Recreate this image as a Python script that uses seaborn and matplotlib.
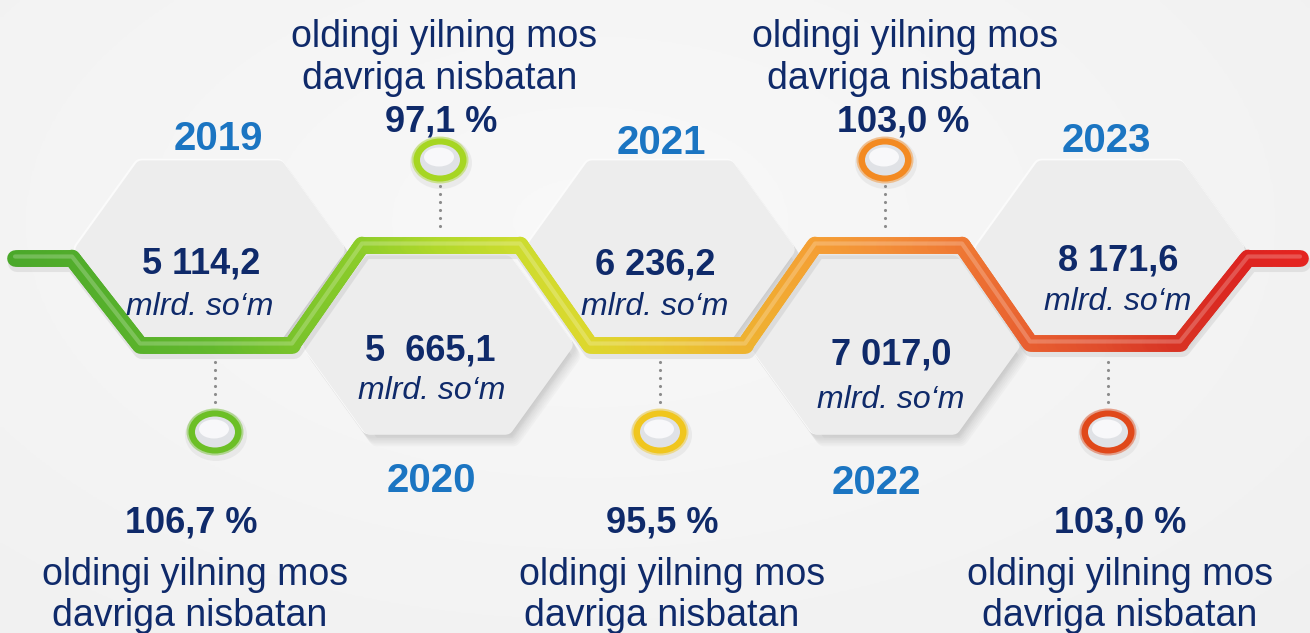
import numpy as np
import matplotlib
matplotlib.use("Agg")
import matplotlib.pyplot as plt
import seaborn as sns
from matplotlib.collections import LineCollection
from matplotlib.colors import LinearSegmentedColormap
from matplotlib.patches import Polygon, Ellipse

# Data
years = ["2019", "2020", "2021", "2022", "2023"]
values = ["5 114,2", "5  665,1", "6 236,2", "7 017,0", "8 171,6"]
unit = "mlrd. so\u2018m"
growth = ["106,7 %", "97,1 %", "95,5 %", "103,0 %", "103,0 %"]
caption = ["oldingi yilning mos", "davriga nisbatan"]

# Layout (pixels, y down)
hex_x = [210, 438, 660, 885, 1110]
hex_y = [250, 345, 250, 345, 250]
year_xy = [(218, 139), (431, 481), (661, 143), (876, 483), (1106, 141)]
val_xy = [(201, 264), (430, 351), (655, 265), (891, 355), (1118, 261)]
unit_xy = [(200, 307), (432, 391), (655, 307), (891, 400), (1118, 302)]
pct_xy = [(191, 523), (441, 122), (662, 523), (903, 122), (1120, 523)]
cap_xy = [[(195, 575), (190, 616)], [(444, 37), (440, 79)],
          [(672, 575), (662, 616)], [(905, 37), (905, 79)],
          [(1120, 575), (1120, 616)]]
bubble_xy = [(215, 432), (440, 160), (660, 432), (885, 160), (1108, 432)]
ring_col = ["#6cbf26", "#a6d622", "#f0c61e", "#f38a22", "#e0481a"]
dots_span = [(362, 404), (186, 232), (362, 404), (186, 232), (362, 404)]

path_x = [15, 72, 140, 292, 362, 520, 590, 745, 815, 962, 1030, 1180, 1248, 1300]
path_y = [258, 258, 345, 345, 245, 245, 345, 345, 245, 245, 343, 343, 258, 258]
grad_x = [15, 215, 360, 440, 520, 590, 665, 745, 815, 885, 962, 1030, 1110, 1180, 1250, 1300]
grad_c = ["#4aa82a", "#62b82c", "#8ccc2a", "#b0d82a", "#ccdc2e", "#dcd82e", "#e8c830",
          "#eeb430", "#f4a034", "#f39038", "#ef7a34", "#e86030", "#e04c2c", "#d83424",
          "#dc2420", "#e42420"]

YEAR_C = "#1b75c2"
NAVY = "#0f2a6a"

sns.set_theme(style="white")
plt.rcParams["font.family"] = ["Liberation Sans", "DejaVu Sans"]

fig = plt.figure(figsize=(13.1, 6.33), dpi=100)
ax = fig.add_axes([0, 0, 1, 1])

# background
bg = np.linspace(0, 1, 256)
bgx, bgy = np.meshgrid(bg, bg)
shade = 0.975 - 0.035 * np.sqrt(((bgx - 0.45) * 1.2) ** 2 + ((bgy - 0.35) * 1.0) ** 2)
ax.imshow(np.dstack([shade] * 3), extent=[0, 1310, 633, 0], aspect="auto", zorder=0)


def hexagon(cx, cy, w=127, h=82, t=68):
    return [(cx - t, cy - h), (cx + t, cy - h), (cx + w, cy),
            (cx + t, cy + h), (cx - t, cy + h), (cx - w, cy)]


for cx, cy in zip(hex_x, hex_y):
    for k in range(6):
        ax.add_patch(Polygon(hexagon(cx + 2 + k, cy + 3 + k * 1.6), closed=True,
                             fc="#808080", ec="#808080", lw=12, joinstyle="round",
                             alpha=0.045, zorder=1))
    ax.add_patch(Polygon(hexagon(cx - 1, cy - 1), closed=True, fc="#fbfbfb", ec="#fbfbfb",
                         lw=12, joinstyle="round", zorder=2))
    ax.add_patch(Polygon(hexagon(cx, cy), closed=True, fc="#ededed", ec="#ededed",
                         lw=11, joinstyle="round", zorder=2))

# gradient line
px, py = [], []
for i in range(len(path_x) - 1):
    n = max(int(np.hypot(path_x[i + 1] - path_x[i], path_y[i + 1] - path_y[i]) / 3), 2)
    px.extend(np.linspace(path_x[i], path_x[i + 1], n, endpoint=False))
    py.extend(np.linspace(path_y[i], path_y[i + 1], n, endpoint=False))
px.append(path_x[-1])
py.append(path_y[-1])
px, py = np.array(px), np.array(py)
pts = np.column_stack([px, py]).reshape(-1, 1, 2)
segs = np.concatenate([pts[:-1], pts[1:]], axis=1)
gpos = (np.array(grad_x) - grad_x[0]) / (grad_x[-1] - grad_x[0])
cmap = LinearSegmentedColormap.from_list("tl", list(zip(gpos, grad_c)))
mid = (px[:-1] + px[1:]) / 2
cols = cmap((mid - grad_x[0]) / (grad_x[-1] - grad_x[0]))

ax.plot(px + 2, py + 5, color="#888888", lw=13, alpha=0.16, solid_capstyle="round",
        solid_joinstyle="round", zorder=3)
ax.add_collection(LineCollection(segs, colors=cols, linewidths=12, capstyle="round",
                                 joinstyle="round", zorder=4))
ax.plot(px, py - 1.5, color="white", lw=3, alpha=0.22, solid_capstyle="round",
        solid_joinstyle="round", zorder=5)

# connector dots
dx, dy = [], []
for (bx, _), (y0, y1) in zip(bubble_xy, dots_span):
    ys = np.arange(y0, y1 + 1, 8)
    dx.extend([bx] * len(ys))
    dy.extend(ys)
sns.scatterplot(x=dx, y=dy, ax=ax, color="#8c8c8c", s=5, linewidth=0, zorder=3)

# bubbles
for (bx, by), rc in zip(bubble_xy, ring_col):
    ax.add_patch(Ellipse((bx + 1, by + 3), 62, 52, fc="#999999", ec="none", alpha=0.13, zorder=6))
    ax.add_patch(Ellipse((bx, by), 57, 47, fc=rc, ec="none", alpha=0.45, zorder=6))
    ax.add_patch(Ellipse((bx, by), 53, 43, fc=rc, ec="none", zorder=6))
    ax.add_patch(Ellipse((bx, by), 40, 31, fc="#e0e2e6", ec="none", zorder=7))
    ax.add_patch(Ellipse((bx - 1, by - 3), 30, 19, fc="#f8f8fa", ec="none", zorder=7))

# texts
for i in range(len(years)):
    ax.text(*year_xy[i], years[i], color=YEAR_C, fontsize=29, fontweight="bold",
            ha="center", va="center", zorder=10)
    ax.text(*val_xy[i], values[i], color=NAVY, fontsize=26, fontweight="bold",
            ha="center", va="center", zorder=10)
    ax.text(*unit_xy[i], unit, color=NAVY, fontsize=23, fontstyle="italic",
            ha="center", va="center", zorder=10)
    ax.text(*pct_xy[i], growth[i], color=NAVY, fontsize=26, fontweight="bold",
            ha="center", va="center", zorder=10)
    for (tx, ty), line in zip(cap_xy[i], caption):
        ax.text(tx, ty, line, color=NAVY, fontsize=27, ha="center", va="center", zorder=10)

ax.set_xlim(0, 1310)
ax.set_ylim(633, 0)
ax.axis("off")

fig.savefig("out.png", dpi=100)
plt.close(fig)
